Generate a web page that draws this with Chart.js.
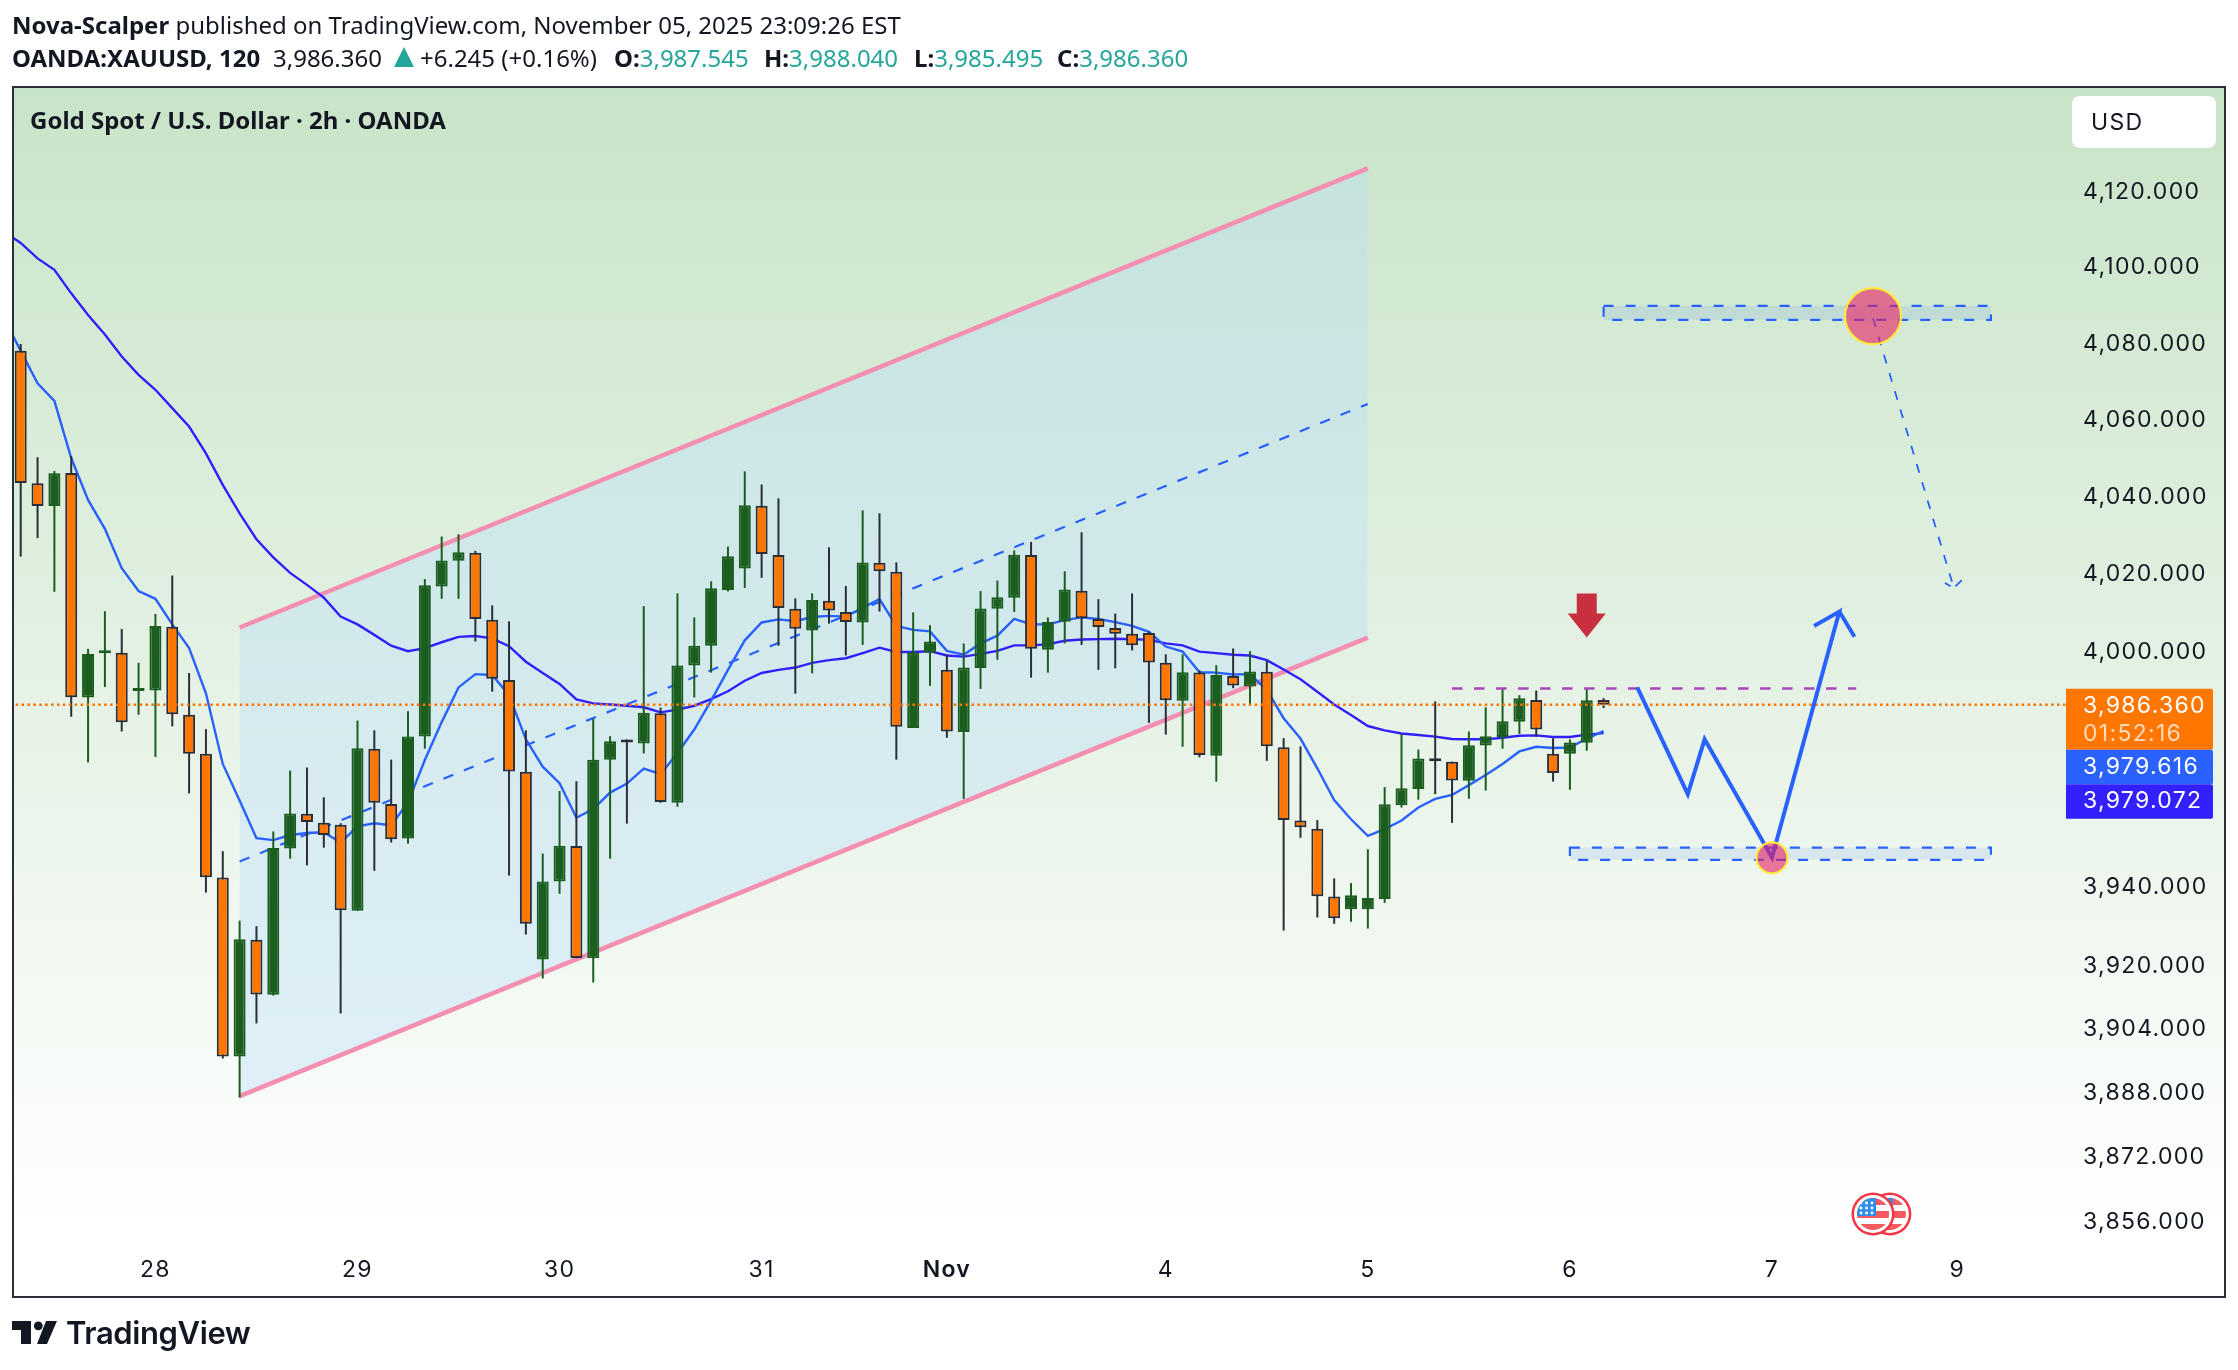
<!DOCTYPE html>
<html>
<head>
<meta charset="utf-8">
<title>XAUUSD 2h</title>
<script src="https://cdn.jsdelivr.net/npm/chart.js@4/dist/chart.umd.min.js"></script>
<style>
  html, body { margin: 0; padding: 0; background: #fff; }
  body { position: relative; width: 2238px; height: 1370px; overflow: hidden; color: #131722; }
  canvas { position: absolute; left: 0; top: 0; }
  .txt { position: absolute; white-space: nowrap; font-family: "Noto Sans", sans-serif; font-size: 24px; line-height: 30px; }
  .txt b { font-weight: 700; }
  .up { color: #26a69a; }
  #tri { position: absolute; left: 394px; top: 47px; width: 0; height: 0; border-left: 10px solid transparent; border-right: 10px solid transparent; border-bottom: 20px solid #26a69a; }
  #brand { font-family: Inter, sans-serif; font-weight: 600; font-size: 31px; line-height: 40px; letter-spacing: -0.4px; }
  #logo { position: absolute; left: 12px; top: 1320px; }
</style>
</head>
<body>
<canvas id="chart" width="2238" height="1370"></canvas>
<div class="txt" style="left:12px;top:10px"><b>Nova-Scalper</b> published on TradingView.com, November 05, 2025 23:09:26 EST</div>
<div class="txt" style="left:12px;top:43px"><b>OANDA:XAUUSD, 120</b></div>
<div class="txt" style="left:273px;top:43px">3,986.360</div>
<div id="tri"></div>
<div class="txt" style="left:420px;top:43px">+6.245 (+0.16%)</div>
<div class="txt" style="left:614px;top:43px"><b>O:</b><span class="up">3,987.545</span></div>
<div class="txt" style="left:764px;top:43px"><b>H:</b><span class="up">3,988.040</span></div>
<div class="txt" style="left:914px;top:43px"><b>L:</b><span class="up">3,985.495</span></div>
<div class="txt" style="left:1057px;top:43px"><b>C:</b><span class="up">3,986.360</span></div>
<div class="txt" style="left:30px;top:105px;font-weight:700">Gold Spot / U.S. Dollar · 2h · OANDA</div>
<svg id="logo" width="46" height="25" viewBox="0 0 46 25"><path d="M0 1h19v23H9V10H0z M34 1h11l-10 23H25z" fill="#131722"/><circle cx="26.3" cy="5.8" r="4.4" fill="#131722"/></svg>
<div id="brand" class="txt" style="left:66px;top:1313px">TradingView</div>
<script>
'use strict';

// ─── Data ─────────────────────────────────────────────────────────────────────

const opens = [
  4078.1, 4043.5, 4037.6, 4046.2, 3988.2, 3999.6, 3999.7, 3989.9, 3990.0, 4006.4,
  3983.8, 3973.8, 3942.3, 3897.2, 3926.6, 3912.7, 3949.7, 3958.5, 3956.2, 3955.7,
  3933.9, 3975.1, 3961.0, 3952.2, 3978.2, 4016.8, 4023.4, 4025.5, 4008.2, 3992.7,
  3969.2, 3921.6, 3941.3, 3950.3, 3921.9, 3972.3, 3977.1, 3976.4, 3984.2, 3961.3,
  3996.4, 4001.5, 4015.9, 4021.4, 4037.7, 4024.9, 4011.0, 4005.4, 4013.1, 4010.2,
  4007.5, 4022.9, 4020.6, 3980.4, 3999.7, 3995.3, 3979.4, 3995.8, 4011.0, 4013.9,
  4024.9, 4000.5, 4007.7, 4015.7, 4008.4, 4006.1, 4004.6, 4004.8, 3997.1, 3987.4,
  3994.6, 3973.3, 3993.7, 3991.0, 3994.8, 3975.5, 3956.8, 3954.7, 3937.5, 3934.3,
  3934.3, 3936.9, 3960.7, 3964.8, 3972.2, 3971.8, 3966.9, 3975.9, 3978.1, 3982.0,
  3987.6, 3973.8, 3973.8, 3976.6, 3987.545,
];
const highs = [
  4079.9, 4050.3, 4046.7, 4050.6, 4000.7, 4010.4, 4005.8, 3997.1, 4009.7, 4019.6,
  3994.5, 3980.1, 3949.0, 3931.4, 3930.0, 3954.0, 3969.5, 3970.3, 3962.7, 3956.1,
  3982.3, 3979.8, 3972.3, 3984.7, 4018.7, 4029.7, 4030.3, 4026.0, 4011.9, 4007.8,
  3979.8, 3948.4, 3964.3, 3966.8, 3982.7, 3978.3, 3977.5, 4011.7, 3985.6, 4015.0,
  4008.8, 4018.1, 4027.1, 4046.6, 4043.2, 4039.6, 4013.7, 4015.0, 4026.9, 4016.9,
  4036.5, 4035.7, 4023.0, 4010.1, 4006.8, 3999.3, 4002.1, 4015.6, 4018.3, 4026.1,
  4028.3, 4008.8, 4020.7, 4030.8, 4013.5, 4009.8, 4015.0, 4005.2, 3999.3, 3999.3,
  3995.2, 3996.5, 4000.8, 4000.1, 3997.7, 3977.8, 3975.7, 3956.9, 3942.1, 3940.9,
  3949.5, 3965.3, 3978.9, 3974.9, 3987.2, 3971.8, 3979.5, 3985.7, 3990.6, 3988.8,
  3990.0, 3977.8, 3977.5, 3990.6, 3988.04,
];
const lows = [
  4024.5, 4029.3, 4015.4, 3983.3, 3971.6, 3990.9, 3979.5, 3983.8, 3973.0, 3980.8,
  3963.7, 3938.5, 3896.7, 3886.9, 3905.5, 3912.5, 3947.1, 3945.4, 3949.9, 3908.0,
  3933.9, 3944.0, 3951.2, 3950.9, 3975.1, 4013.6, 4013.6, 4002.6, 3989.7, 3942.8,
  3927.9, 3916.8, 3938.2, 3921.9, 3915.8, 3947.1, 3956.0, 3973.9, 3961.3, 3960.3,
  3988.2, 3994.6, 4015.5, 4016.4, 4019.0, 4001.5, 3989.2, 3994.4, 4007.2, 3999.0,
  4001.7, 4010.3, 3972.3, 3980.4, 3991.2, 3977.9, 3962.3, 3990.4, 3997.9, 4010.2,
  3993.3, 3994.6, 4002.1, 4001.7, 3995.3, 3995.7, 4000.3, 3981.7, 3978.7, 3975.6,
  3972.9, 3966.7, 3990.6, 3986.2, 3972.0, 3928.9, 3952.4, 3932.2, 3930.6, 3931.1,
  3929.4, 3935.9, 3960.1, 3962.1, 3963.5, 3956.2, 3962.3, 3964.4, 3975.1, 3978.9,
  3978.2, 3966.7, 3964.6, 3974.6, 3985.495,
];
const closes = [
  4043.6, 4037.6, 4046.1, 3988.3, 3999.4, 3999.9, 3981.9, 3990.4, 4006.6, 3983.9,
  3973.8, 3942.4, 3897.2, 3926.7, 3912.8, 3949.8, 3958.6, 3956.4, 3953.1, 3934.0,
  3975.2, 3961.3, 3952.0, 3978.2, 4017.1, 4023.5, 4025.6, 4008.4, 3993.0, 3969.3,
  3930.6, 3941.3, 3950.4, 3922.0, 3972.3, 3977.0, 3976.7, 3984.3, 3961.5, 3996.4,
  4001.5, 4016.3, 4024.6, 4037.8, 4025.2, 4011.2, 4005.9, 4013.3, 4010.6, 4007.6,
  4023.0, 4020.7, 3980.7, 3999.8, 4002.6, 3979.5, 3995.9, 4011.1, 4014.0, 4025.0,
  4000.7, 4007.6, 4016.0, 4008.6, 4006.3, 4004.6, 4001.6, 3997.2, 3987.5, 3994.7,
  3973.5, 3994.0, 3991.3, 3994.9, 3975.7, 3956.9, 3955.1, 3937.6, 3932.0, 3937.8,
  3937.1, 3960.9, 3965.0, 3972.6, 3971.9, 3967.0, 3976.0, 3978.3, 3982.1, 3988.0,
  3980.0, 3968.9, 3976.7, 3987.5, 3986.36,
];

// moving averages start one bar before the first candle, off the pane's edge
const maFast = [
  4086.7,
  4078.1, 4069.6, 4065.0, 4050.1, 4039.2, 4031.7, 4021.5, 4015.6, 4013.6, 4007.0,
  4000.9, 3989.3, 3971.2, 3961.9, 3952.3, 3951.8, 3953.1, 3953.6, 3953.8, 3951.2,
  3955.3, 3956.1, 3955.6, 3961.4, 3972.2, 3981.9, 3990.8, 3994.2, 3994.0, 3988.8,
  3977.5, 3970.5, 3966.3, 3957.5, 3959.7, 3963.9, 3966.2, 3970.0, 3968.6, 3974.0,
  3980.0, 3987.4, 3995.3, 4002.9, 4007.5, 4008.3, 4007.8, 4008.9, 4009.2, 4009.0,
  4011.3, 4013.5, 4006.6, 4005.6, 4005.2, 4000.2, 3999.2, 4002.1, 4004.1, 4008.4,
  4007.0, 4007.0, 4008.1, 4008.8, 4008.4, 4007.6, 4006.6, 4005.1, 4001.3, 4000.0,
  3994.7, 3994.6, 3994.1, 3994.2, 3990.1, 3982.9, 3977.7, 3970.1, 3962.0, 3957.1,
  3952.9, 3954.6, 3956.8, 3960.1, 3962.3, 3963.3, 3965.8, 3968.4, 3971.2, 3974.4,
  3975.6, 3975.3, 3975.4, 3977.7, 3979.616,
];
const maSlow = [
  4109.4,
  4106.5, 4102.4, 4099.4, 4093.2, 4087.5, 4082.4, 4076.6, 4071.8, 4067.9, 4063.1,
  4058.3, 4051.3, 4043.1, 4035.7, 4029.0, 4024.3, 4020.3, 4017.2, 4013.9, 4009.0,
  4007.0, 4004.3, 4001.5, 4000.1, 4000.9, 4002.4, 4003.8, 4004.0, 4003.4, 4001.4,
  3997.4, 3994.5, 3991.7, 3987.7, 3986.7, 3986.4, 3986.1, 3985.7, 3984.4, 3985.1,
  3986.1, 3987.8, 3989.8, 3992.5, 3994.5, 3995.3, 3995.9, 3997.1, 3997.8, 3998.3,
  3999.6, 4001.0, 3999.9, 3999.9, 4000.1, 3999.0, 3998.7, 3999.4, 4000.2, 4001.6,
  4001.6, 4001.9, 4002.8, 4003.1, 4003.2, 4003.3, 4003.2, 4003.0, 4002.1, 4001.6,
  4000.0, 3999.6, 3999.2, 3999.0, 3997.8, 3995.4, 3992.9, 3989.7, 3986.4, 3983.7,
  3980.9, 3979.8, 3979.0, 3978.6, 3978.2, 3977.6, 3977.5, 3977.5, 3977.9, 3978.4,
  3978.5, 3978.1, 3978.1, 3978.7, 3979.072,
];

const dayTickBars = [8, 20, 32, 44, 55, 68, 80, 92, 104, 115];
const dayTickLabels = ['28', '29', '30', '31', 'Nov', '4', '5', '6', '7', '9'];
const priceTicks = [3856, 3872, 3888, 3904, 3920, 3940, 4000, 4020, 4040, 4060, 4080, 4100, 4120];

const lastPrice = 3986.36;
const lastPriceBars = [-1, 122];

// channel drawing: [start bar, end bar] with the price of each rail at those bars
const channelBars = [13, 80];
const channelTop = [4006.2, 4126.2];
const channelMid = [3946.4, 4064.2];
const channelBottom = [3887.3, 4003.6];

const resistBars = [85, 109];
const resistPrice = [3990.5, 3990.5];

const pathBars = [96, 99, 100, 104, 108, 106.5, 108, 108.9];
const pathPrices = [3990.8, 3963.5, 3977.5, 3947.4, 4010.3, 4006.6, 4010.3, 4003.8];

const pullbackBars = [110, 114.8, 114.27, 114.8, 115.44];
const pullbackPrices = [4086.6, 4016.4, 4017.7, 4016.4, 4019.1];

const zoneBars = [[94, 117], [92, 117]];
const zonePrices = [[4089.9, 4086.2], [3949.9, 3946.8]];
const circleBars = [110, 104];
const circlePrices = [4087.2, 3947.3];
const arrowBar = 93;
const arrowPrice = 4003.6;
const flagBars = [110, 111];

const priceTags = ['3,986.360', '3,979.616', '3,979.072'];
const countdown = '01:52:16';

// ─── Helpers ──────────────────────────────────────────────────────────────────

const BLUE = '#2962ff';
const DARK_BLUE = '#3320ff';
const ORANGE = '#ff7600';
const GREEN = '#1b5e20';
const INK = '#2a2e39';
const FONT = 'Inter, sans-serif';

const barIndex = opens.map((_, i) => i);
const maBars = [-1].concat(barIndex);
const isUp = barIndex.map((i) => closes[i] >= opens[i]);

function pts(xs, ys) {
  return xs.map((x, i) => ({ x, y: ys[i] }));
}

function lineSet(data, color, width, order, extra) {
  return Object.assign({
    type: 'line', data, borderColor: color, borderWidth: width,
    pointRadius: 0, tension: 0, fill: false, order,
  }, extra);
}

function fmtPrice(v) {
  return v.toLocaleString('en-US', { minimumFractionDigits: 3, maximumFractionDigits: 3 });
}

// ─── Plugins ──────────────────────────────────────────────────────────────────

const backdrop = {
  id: 'backdrop',
  beforeDraw(chart) {
    const { ctx, chartArea } = chart;
    const g = ctx.createLinearGradient(0, 87, 0, chartArea.bottom);
    g.addColorStop(0, '#c8e4c8');
    g.addColorStop(1, '#ffffff');
    // the axis labels are spaced wider than the font's default
    ctx.letterSpacing = '1.3px';
    ctx.save();
    ctx.fillStyle = '#fff';
    ctx.fillRect(0, 0, chart.width, chart.height);
    ctx.fillStyle = g;
    ctx.fillRect(13, 87, 2212, 1210);
    ctx.restore();
  },
};

function drawFlag(ctx, cx, cy) {
  const r = 19;
  ctx.save();
  ctx.beginPath();
  ctx.arc(cx, cy, r + 2.5, 0, Math.PI * 2);
  ctx.fillStyle = '#f23645';
  ctx.fill();
  ctx.beginPath();
  ctx.arc(cx, cy, r, 0, Math.PI * 2);
  ctx.fillStyle = '#fff';
  ctx.fill();
  ctx.beginPath();
  ctx.arc(cx, cy, r - 3, 0, Math.PI * 2);
  ctx.clip();
  ctx.fillStyle = '#f45a5e';
  ctx.fillRect(cx - r, cy - 16, 2 * r, 7);
  ctx.fillRect(cx - r, cy - 3, 2 * r, 7);
  ctx.fillRect(cx - r, cy + 10, 2 * r, 7);
  ctx.fillStyle = '#2f8fe6';
  ctx.fillRect(cx - r, cy - r, r + 3, r + 2);
  ctx.fillStyle = '#fff';
  for (let row = 0; row < 3; row++) {
    for (let col = 0; col < 3; col++) {
      ctx.beginPath();
      ctx.arc(cx - 12 + col * 5.5, cy - 11 + row * 5, 1.4, 0, Math.PI * 2);
      ctx.fill();
    }
  }
  ctx.restore();
}

const drawings = {
  id: 'drawings',
  afterDatasetsDraw(chart) {
    const { ctx, scales: { x, y }, chartArea } = chart;
    ctx.save();

    // target zones
    zoneBars.forEach((bars, i) => {
      const l = x.getPixelForValue(bars[0]);
      const r = x.getPixelForValue(bars[1]);
      const t = y.getPixelForValue(zonePrices[i][0]);
      const b = y.getPixelForValue(zonePrices[i][1]);
      ctx.fillStyle = 'rgba(41,98,255,0.1)';
      ctx.fillRect(l, t, r - l, b - t);
      ctx.strokeStyle = BLUE;
      ctx.lineWidth = 2.2;
      ctx.setLineDash([10, 12]);
      ctx.strokeRect(l, t, r - l, b - t);
    });
    ctx.setLineDash([]);

    // circles at the turning points
    [28, 15.5].forEach((radius, i) => {
      ctx.beginPath();
      ctx.arc(x.getPixelForValue(circleBars[i]), y.getPixelForValue(circlePrices[i]), radius, 0, Math.PI * 2);
      ctx.fillStyle = 'rgba(233,30,99,0.6)';
      ctx.fill();
      ctx.strokeStyle = '#ffeb3b';
      ctx.lineWidth = 2.2;
      ctx.stroke();
    });

    // red down arrow
    const ax = x.getPixelForValue(arrowBar);
    const ay = y.getPixelForValue(arrowPrice);
    ctx.beginPath();
    ctx.moveTo(ax, ay);
    ctx.lineTo(ax + 19, ay - 24);
    ctx.lineTo(ax + 10, ay - 24);
    ctx.lineTo(ax + 10, ay - 44);
    ctx.lineTo(ax - 10, ay - 44);
    ctx.lineTo(ax - 10, ay - 24);
    ctx.lineTo(ax - 19, ay - 24);
    ctx.closePath();
    ctx.fillStyle = '#c82f3f';
    ctx.fill();

    // economic calendar flags, pinned to the foot of the pane
    flagBars.slice().reverse().forEach((bar) => {
      drawFlag(ctx, x.getPixelForValue(bar), chartArea.bottom - 26);
    });
    ctx.restore();
  },
  afterDraw(chart) {
    const { ctx, scales: { y }, chartArea } = chart;
    ctx.save();

    // currency button
    ctx.fillStyle = '#fff';
    ctx.beginPath();
    ctx.roundRect(2072, 96, 144, 52, 8);
    ctx.fill();
    ctx.fillStyle = '#131722';
    ctx.font = '23px ' + FONT;
    ctx.textBaseline = 'middle';
    ctx.fillText('USD', 2091, 123);

    // last price tags stacked on the axis
    const left = chartArea.right;
    const top = y.getPixelForValue(lastPrice) - 16;
    const tag = (ty, h, color) => {
      ctx.fillStyle = color;
      ctx.beginPath();
      ctx.roundRect(left, ty, 147, h, [0, 2, 2, 0]);
      ctx.fill();
    };
    tag(top, 61, ORANGE);
    tag(top + 61, 34.5, BLUE);
    tag(top + 95.5, 34.5, DARK_BLUE);
    ctx.fillStyle = '#fff';
    ctx.fillText(priceTags[0], 2083, top + 17);
    ctx.fillText(priceTags[1], 2083, top + 78);
    ctx.fillText(priceTags[2], 2083, top + 112);
    ctx.fillStyle = 'rgba(255,255,255,0.72)';
    ctx.fillText(countdown, 2083, top + 45);

    // pane frame
    ctx.strokeStyle = INK;
    ctx.lineWidth = 2;
    ctx.strokeRect(13, 87, 2212, 1210);
    ctx.restore();
  },
};

// ─── Chart ────────────────────────────────────────────────────────────────────

Chart.defaults.font.family = FONT;
Chart.defaults.color = '#131722';

new Chart(document.getElementById('chart'), {
  type: 'bar',
  plugins: [backdrop, drawings],
  data: {
    datasets: [
      lineSet(pts(channelBars, channelTop), '#f48fb1', 4.5, 30, {
        fill: '+1', backgroundColor: 'rgba(187,222,251,0.4)',
      }),
      lineSet(pts(channelBars, channelBottom), '#f48fb1', 4.5, 29),
      lineSet(pts(channelBars, channelMid), BLUE, 2.2, 28, { borderDash: [10.5, 11.5] }),
      lineSet(pts(maBars, maSlow), DARK_BLUE, 2.4, 27),
      lineSet(pts(maBars, maFast), BLUE, 2.4, 26),
      {
        label: 'wicks',
        data: barIndex.map((i) => ({ x: i, y: [lows[i], highs[i]] })),
        backgroundColor: isUp.map((u) => (u ? GREEN : INK)),
        barThickness: 2,
        borderWidth: 0,
        grouped: false,
        inflateAmount: 0,
        order: 25,
      },
      {
        label: 'bodies',
        data: barIndex.map((i) => ({ x: i, y: [Math.min(opens[i], closes[i]), Math.max(opens[i], closes[i])] })),
        backgroundColor: isUp.map((u) => (u ? GREEN : ORANGE)),
        borderColor: isUp.map((u) => (u ? GREEN : INK)),
        borderWidth: 2,
        borderSkipped: false,
        barThickness: 12,
        minBarLength: 3,
        grouped: false,
        inflateAmount: 0,
        order: 24,
      },
      lineSet(pts(lastPriceBars, [lastPrice, lastPrice]), ORANGE, 2.5, 23, { borderDash: [2.5, 3.4] }),
      lineSet(pts(resistBars, resistPrice), '#ab47bc', 2.5, 22, { borderDash: [10.5, 11.5] }),
      lineSet(pts(pullbackBars, pullbackPrices), BLUE, 1.8, 21, { borderDash: [9, 10] }),
      lineSet(pts(pathBars, pathPrices), BLUE, 4, 20),
    ],
  },
  options: {
    responsive: false,
    animation: false,
    events: [],
    layout: { padding: { left: 14, right: 13, top: 88, bottom: 73 } },
    plugins: { legend: { display: false }, tooltip: { enabled: false }, title: { display: false } },
    scales: {
      x: {
        type: 'linear',
        offset: false,
        min: -0.398,
        max: 121.46,
        grid: { display: false, drawTicks: false },
        border: { display: false },
        afterFit: (s) => { s.height = 57; },
        afterBuildTicks: (s) => { s.ticks = dayTickBars.map((value) => ({ value })); },
        ticks: {
          autoSkip: false,
          maxRotation: 0,
          padding: 16,
          font: (ctx) => ({ size: 23, weight: ctx.tick && ctx.tick.value === 55 ? '600' : '400' }),
          callback: (v) => dayTickLabels[dayTickBars.indexOf(v)],
        },
      },
      y: {
        type: 'logarithmic',
        position: 'right',
        min: 3851.5,
        max: 4147.6,
        grid: { display: false, drawTicks: false },
        border: { display: false },
        afterFit: (s) => { s.width = 159; },
        afterBuildTicks: (s) => { s.ticks = priceTicks.map((value) => ({ value })); },
        ticks: {
          autoSkip: false,
          padding: 17,
          font: { size: 23 },
          callback: (v) => fmtPrice(v),
        },
      },
    },
  },
});
</script>
</body>
</html>
